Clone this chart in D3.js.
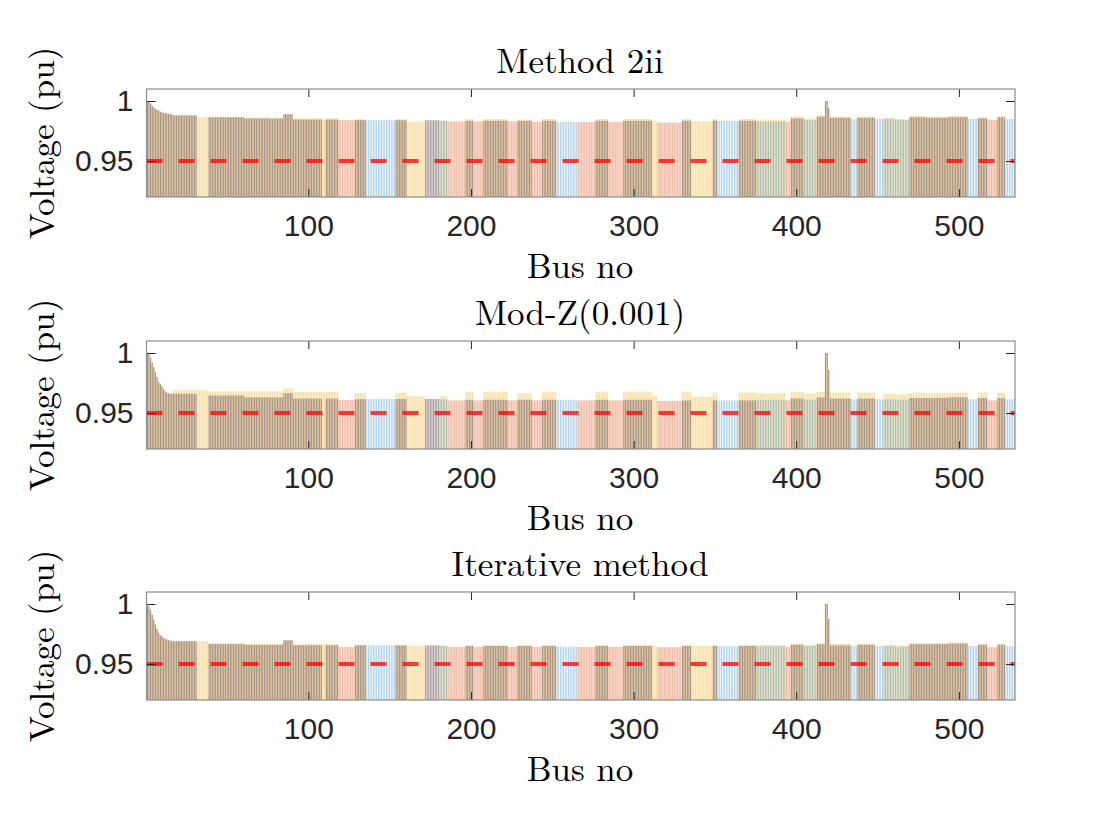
<!DOCTYPE html>
<html>
<head>
<meta charset="utf-8">
<script src="https://cdn.jsdelivr.net/npm/d3@7"></script>
<style>
  body { margin: 0; background: #fff; }
  svg { display: block; }
</style>
</head>
<body>
<div id="chart"></div>
<script>
// bus voltage profile, 534 buses, three phases
var busCount = 534;
var panelTitles = ["Method 2ii", "Mod-Z(0.001)", "Iterative method"];
var xTickValues = [100, 200, 300, 400, 500];
var yTickValues = [0.95, 1];
var limitValue = 0.95;
var phaseColors = { a: "#0072BD", b: "#D95319", c: "#EDB120" };

// buses 1..16, all three phases, per panel
var head1 = [1.000, 0.9995, 0.998, 0.996, 0.9945, 0.9935, 0.9925, 0.992, 0.991, 0.9905, 0.990, 0.9898, 0.9895, 0.9893, 0.989, 0.989];
var head2 = [1.000, 0.999, 0.996, 0.992, 0.988, 0.984, 0.980, 0.976, 0.974, 0.972, 0.970, 0.968, 0.967, 0.9665, 0.966, 0.966];
var head3 = [1.000, 0.998, 0.995, 0.991, 0.987, 0.983, 0.979, 0.976, 0.974, 0.973, 0.9715, 0.971, 0.9705, 0.970, 0.9695, 0.9693];

// runs of buses from bus 17 on: first bus of each run and the phases it carries
var segStart = [17, 32, 39, 61, 85, 91, 109, 111, 119, 129,
                136, 154, 161, 172, 181, 186, 197, 202, 208, 223,
                229, 238, 244, 253, 266, 277, 285, 294, 312, 315,
                330, 336, 349, 352, 365, 376, 394, 397, 405, 413,
                418, 420, 421, 434, 438, 449, 454, 461, 470, 480,
                494, 506, 512, 518, 524, 529];
var segPhases = ["abc", "c", "abc", "abc", "abc", "abc", "c", "abc", "b", "abc",
                 "a", "abc", "c", "ab", "ac", "b", "abc", "b", "abc", "b",
                 "abc", "b", "abc", "a", "b", "abc", "b", "abc", "c", "b",
                 "abc", "c", "abc", "a", "abc", "ac", "b", "abc", "ac", "abc",
                 "abc", "abc", "abc", "a", "abc", "a", "ac", "ac", "abc", "abc",
                 "abc", "a", "abc", "b", "abc", "a"];

// Method 2ii: phases a/b and phase c
var v1 = [0.988, 0.9865, 0.9865, 0.9855, 0.989, 0.9845, 0.9845, 0.9845, 0.984, 0.984,
          0.984, 0.984, 0.9825, 0.984, 0.9835, 0.983, 0.9835, 0.983, 0.9835, 0.983,
          0.9835, 0.9825, 0.9835, 0.9825, 0.9825, 0.9835, 0.9825, 0.9835, 0.983, 0.982,
          0.9835, 0.983, 0.9835, 0.9835, 0.9835, 0.983, 0.9825, 0.9855, 0.984, 0.987,
          1.000, 0.994, 0.986, 0.985, 0.986, 0.985, 0.985, 0.984, 0.9865, 0.986,
          0.9865, 0.985, 0.9855, 0.984, 0.9865, 0.985];
var v1c = [0.988, 0.9865, 0.9865, 0.9855, 0.989, 0.9855, 0.9845, 0.9855, 0.984, 0.985,
           0.984, 0.985, 0.9825, 0.984, 0.9835, 0.983, 0.985, 0.983, 0.985, 0.983,
           0.9845, 0.9825, 0.985, 0.9825, 0.9825, 0.985, 0.9825, 0.985, 0.983, 0.982,
           0.985, 0.983, 0.985, 0.9835, 0.985, 0.9845, 0.9825, 0.987, 0.9855, 0.988,
           1.000, 0.994, 0.987, 0.985, 0.987, 0.985, 0.986, 0.985, 0.9875, 0.987,
           0.9875, 0.985, 0.9865, 0.984, 0.9875, 0.985];
// Mod-Z(0.001)
var v2 = [0.966, 0.966, 0.9645, 0.963, 0.9665, 0.962, 0.962, 0.962, 0.9608, 0.9615,
          0.9617, 0.9617, 0.961, 0.9617, 0.9615, 0.9605, 0.961, 0.9605, 0.961, 0.9605,
          0.961, 0.9605, 0.961, 0.961, 0.9605, 0.961, 0.9605, 0.961, 0.961, 0.960,
          0.9605, 0.961, 0.9605, 0.9605, 0.9605, 0.961, 0.9605, 0.962, 0.961, 0.963,
          1.000, 0.986, 0.962, 0.9615, 0.962, 0.9615, 0.9615, 0.961, 0.9625, 0.9625,
          0.963, 0.9615, 0.9625, 0.9605, 0.9625, 0.9615];
var v2c = [0.969, 0.969, 0.968, 0.968, 0.9705, 0.9675, 0.9675, 0.9675, 0.961, 0.9665,
           0.962, 0.967, 0.964, 0.962, 0.964, 0.961, 0.9677, 0.961, 0.9677, 0.961,
           0.9665, 0.961, 0.9677, 0.961, 0.961, 0.9677, 0.961, 0.9677, 0.964, 0.960,
           0.9677, 0.9635, 0.967, 0.961, 0.967, 0.9665, 0.961, 0.9675, 0.966, 0.9675,
           1.000, 0.986, 0.967, 0.962, 0.967, 0.962, 0.966, 0.9655, 0.967, 0.9665,
           0.967, 0.962, 0.967, 0.961, 0.967, 0.962];
// Iterative method
var v3 = [0.969, 0.969, 0.9667, 0.966, 0.9697, 0.9656, 0.9656, 0.9656, 0.9642, 0.9655,
          0.9656, 0.9655, 0.9645, 0.9655, 0.965, 0.9642, 0.965, 0.9642, 0.965, 0.9642,
          0.965, 0.9642, 0.965, 0.9645, 0.9642, 0.965, 0.9642, 0.965, 0.9645, 0.964,
          0.965, 0.9645, 0.965, 0.9648, 0.965, 0.9648, 0.9642, 0.966, 0.965, 0.9665,
          1.000, 0.9875, 0.9655, 0.965, 0.966, 0.965, 0.965, 0.9645, 0.9665, 0.9665,
          0.967, 0.965, 0.966, 0.964, 0.966, 0.965];
var v3c = [0.969, 0.969, 0.9672, 0.9665, 0.970, 0.9665, 0.9665, 0.9665, 0.9642, 0.966,
           0.9656, 0.966, 0.9652, 0.9655, 0.9655, 0.9642, 0.966, 0.9642, 0.966, 0.9642,
           0.966, 0.9642, 0.966, 0.9645, 0.9642, 0.966, 0.9642, 0.966, 0.9652, 0.964,
           0.966, 0.9652, 0.966, 0.9648, 0.966, 0.9658, 0.9642, 0.967, 0.966, 0.9675,
           1.000, 0.9875, 0.967, 0.965, 0.967, 0.965, 0.966, 0.9655, 0.9675, 0.9675,
           0.968, 0.965, 0.967, 0.964, 0.967, 0.965];

var panelData = [
    { head: head1, ab: v1, c: v1c },
    { head: head2, ab: v2, c: v2c },
    { head: head3, ab: v3, c: v3c }
];

var width = 1120, height = 840;
var margins = { left: 146.5, right: 105 };
var panelTops = [89, 341, 592];
var panelHeight = 108;
var serif = "'Latin Modern Roman', 'CMU Serif', 'Liberation Serif', 'DejaVu Serif', serif";
var sans = "Helvetica, Arial, 'Liberation Sans', sans-serif";
var drawOrder = ["c", "b", "a"];

// one bar record per bus and phase
function buildBars(p) {
    var bars = [];
    for (var bus = 1; bus <= busCount; bus++) {
        if (bus <= p.head.length) {
            drawOrder.forEach(function (ph) { bars.push({ bus: bus, phase: ph, v: p.head[bus - 1] }); });
            continue;
        }
        var s = d3.bisectRight(segStart, bus) - 1;
        var phases = segPhases[s];
        drawOrder.forEach(function (ph) {
            if (phases.indexOf(ph) < 0) { return; }
            bars.push({ bus: bus, phase: ph, v: ph === "c" ? p.c[s] : p.ab[s] });
        });
    }
    return bars;
}

var svg = d3.select("#chart").append("svg")
    .attr("width", width)
    .attr("height", height);

var x = d3.scaleLinear().domain([0.5, busCount + 0.5]).range([margins.left, width - margins.right]);
var unit = x(1) - x(0);
var barWidth = { a: 0.5, b: 0.8, c: 0.8 };

panelData.forEach(function (p, i) {
    var top = panelTops[i], bottom = top + panelHeight;
    var y = d3.scaleLinear().domain([0.92, 1.01]).range([bottom, top]);
    var g = svg.append("g");

    g.append("clipPath").attr("id", "clip" + i)
        .append("rect")
        .attr("x", margins.left).attr("y", top)
        .attr("width", x.range()[1] - margins.left).attr("height", panelHeight);

    g.append("g").attr("clip-path", "url(#clip" + i + ")")
        .selectAll("rect")
        .data(buildBars(p))
        .enter().append("rect")
        .attr("x", function (d) { return x(d.bus) - barWidth[d.phase] * unit / 2; })
        .attr("width", function (d) { return barWidth[d.phase] * unit; })
        .attr("y", function (d) { return y(d.v); })
        .attr("height", function (d) { return bottom - y(d.v); })
        .attr("fill", function (d) { return phaseColors[d.phase]; })
        .attr("fill-opacity", 0.38);

    // 0.95 pu limit
    g.append("line")
        .attr("x1", margins.left).attr("x2", x.range()[1])
        .attr("y1", y(limitValue)).attr("y2", y(limitValue))
        .attr("stroke", "#ff0000").attr("stroke-opacity", 0.75)
        .attr("stroke-width", 4)
        .attr("stroke-dasharray", "16,16");

    // axes, MATLAB style: ticks inside, box on
    g.append("g").attr("transform", "translate(0," + bottom + ")")
        .call(d3.axisBottom(x).tickValues(xTickValues).tickSize(-8).tickPadding(18));
    g.append("g").attr("transform", "translate(0," + top + ")")
        .call(d3.axisTop(x).tickValues(xTickValues).tickSize(-8).tickFormat(""));
    g.append("g").attr("transform", "translate(" + margins.left + ",0)")
        .call(d3.axisLeft(y).tickValues(yTickValues).tickSize(-9).tickPadding(13)
            .tickFormat(function (d) { return d === 1 ? "1" : String(d); }));
    g.append("g").attr("transform", "translate(" + x.range()[1] + ",0)")
        .call(d3.axisRight(y).tickValues(yTickValues).tickSize(-9).tickFormat(""));

    g.selectAll(".domain").remove();
    g.selectAll(".tick line").attr("stroke", "#262626").attr("stroke-width", 1);
    g.selectAll(".tick text").attr("fill", "#262626")
        .style("font-family", sans).style("font-size", "30px");

    g.append("rect")
        .attr("x", margins.left).attr("y", top)
        .attr("width", x.range()[1] - margins.left).attr("height", panelHeight)
        .attr("fill", "none").attr("stroke", "#8c8c8c").attr("stroke-width", 1.2);

    g.append("text")
        .attr("x", 580).attr("y", top - 16)
        .attr("text-anchor", "middle")
        .style("font-family", serif).style("font-size", "35px")
        .text(panelTitles[i]);

    g.append("text")
        .attr("x", 580).attr("y", bottom + 81)
        .attr("text-anchor", "middle")
        .style("font-family", serif).style("font-size", "35px")
        .text("Bus no");

    g.append("text")
        .attr("transform", "translate(54," + (top + panelHeight / 2) + ") rotate(-90)")
        .attr("text-anchor", "middle")
        .style("font-family", serif).style("font-size", "35px")
        .text("Voltage (pu)");
});
</script>
</body>
</html>
